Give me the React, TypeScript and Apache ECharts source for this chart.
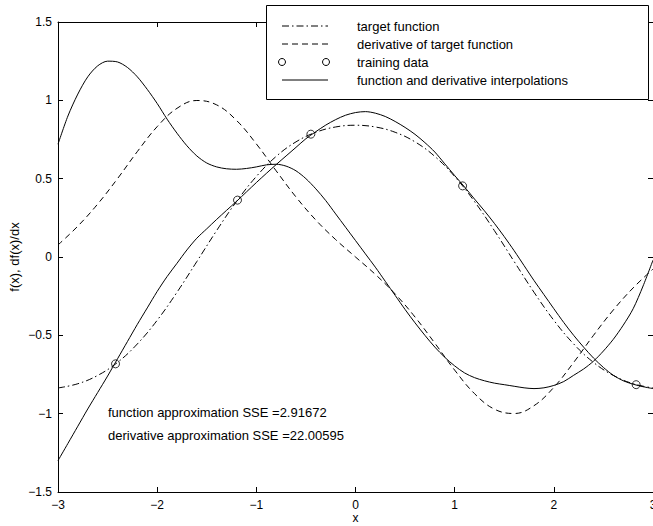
import React, { useEffect, useRef } from "react";
import * as echarts from "echarts";

const xs = [-3, -2.8, -2.6, -2.4, -2.2, -2, -1.8, -1.6, -1.4, -1.2, -1, -0.8, -0.6, -0.4, -0.2, 0, 0.2, 0.4, 0.6, 0.8, 1, 1.2, 1.4, 1.6, 1.8, 2, 2.2, 2.4, 2.6, 2.8, 3];
const targetF = [-0.836, -0.809, -0.756, -0.673, -0.555, -0.404, -0.225, -0.029, 0.169, 0.354, 0.514, 0.642, 0.735, 0.796, 0.83, 0.841, 0.83, 0.796, 0.735, 0.642, 0.514, 0.354, 0.169, -0.029, -0.225, -0.404, -0.555, -0.673, -0.756, -0.809, -0.836];
const targetDF = [0.077, 0.197, 0.338, 0.5, 0.673, 0.832, 0.949, 0.999, 0.971, 0.872, 0.722, 0.55, 0.383, 0.236, 0.111, 0, -0.111, -0.236, -0.383, -0.55, -0.722, -0.872, -0.971, -0.999, -0.949, -0.832, -0.673, -0.5, -0.338, -0.197, -0.077];
const xsFine = [-3, -2.9, -2.8, -2.7, -2.6, -2.5, -2.4, -2.3, -2.2, -2.1, -2, -1.9, -1.8, -1.7, -1.6, -1.5, -1.4, -1.3, -1.2, -1.1, -1, -0.9, -0.8, -0.7, -0.6, -0.5, -0.4, -0.3, -0.2, -0.1, 0, 0.1, 0.2, 0.3, 0.4, 0.5, 0.6, 0.7, 0.8, 0.9, 1, 1.1, 1.2, 1.3, 1.4, 1.5, 1.6, 1.7, 1.8, 1.9, 2, 2.1, 2.2, 2.3, 2.4, 2.5, 2.6, 2.7, 2.8, 2.9, 3];
const interpF = [-1.3, -1.19, -1.08, -0.97, -0.865, -0.76, -0.65, -0.54, -0.43, -0.325, -0.22, -0.125, -0.04, 0.045, 0.12, 0.18, 0.24, 0.298, 0.355, 0.415, 0.475, 0.533, 0.59, 0.645, 0.7, 0.755, 0.8, 0.842, 0.877, 0.905, 0.922, 0.928, 0.918, 0.897, 0.865, 0.827, 0.783, 0.73, 0.67, 0.595, 0.52, 0.447, 0.37, 0.295, 0.215, 0.13, 0.04, -0.055, -0.15, -0.24, -0.33, -0.418, -0.5, -0.575, -0.645, -0.705, -0.755, -0.79, -0.812, -0.828, -0.84];
const interpDF = [0.72, 0.9, 1.04, 1.15, 1.22, 1.25, 1.245, 1.21, 1.15, 1.07, 0.98, 0.88, 0.79, 0.71, 0.645, 0.6, 0.575, 0.563, 0.56, 0.565, 0.575, 0.588, 0.592, 0.58, 0.55, 0.5, 0.435, 0.36, 0.275, 0.19, 0.105, 0.02, -0.065, -0.155, -0.245, -0.335, -0.42, -0.5, -0.575, -0.64, -0.695, -0.74, -0.77, -0.79, -0.805, -0.815, -0.825, -0.835, -0.84, -0.835, -0.82, -0.795, -0.755, -0.715, -0.665, -0.6, -0.525, -0.435, -0.33, -0.185, -0.02];
const trainX = [-2.42, -1.19, -0.45, 1.08, 2.83];
const trainY = [-0.682, 0.363, 0.784, 0.454, -0.815];
const legendLabels = ["target function", "derivative of target function", "training data", "function and derivative interpolations"];
const sseLabels = ["function approximation SSE =2.91672", "derivative approximation SSE =22.00595"];
const xAxisTitle = "x";
const yAxisTitle = "f(x), df(x)/dx";

const FONT = "Liberation Sans, Arial, Helvetica, sans-serif";
const fmt = (v: number) => String(v).replace("-", "\u2212");
const DASHDOT = [7, 3, 1.5, 3];
const DASHED = [6, 4];

export default function App() {
  const ref = useRef<HTMLDivElement>(null);
  useEffect(() => {
    if (!ref.current) return;
    const chart = echarts.init(ref.current, undefined, { renderer: "svg" });
    const axisCommon = {
      type: "value" as const,
      axisLine: { show: true, onZero: false, lineStyle: { color: "#000", width: 1 } },
      axisTick: { show: true, inside: true, length: 5, lineStyle: { color: "#000", width: 1 } },
      splitLine: { show: false },
    };
    const labelStyle = { color: "#000", fontSize: 12, fontFamily: FONT };
    const pair = (xv: number[], ys: number[]) => xv.map((x, i) => [x, ys[i]]);
    const rows = [26, 44, 62, 80];
    const lx1 = 282, lx2 = 328, tx = 357;
    const textFont = `13px ${FONT}`;
    const graphics: any[] = [
      { type: "rect", z: 100, shape: { x: 266.5, y: 5.5, width: 382, height: 94 }, style: { fill: "#fff", stroke: "#000", lineWidth: 1 } },
      { type: "line", z: 101, shape: { x1: lx1, y1: rows[0], x2: lx2, y2: rows[0] }, style: { stroke: "#000", lineWidth: 1, lineDash: DASHDOT } },
      { type: "line", z: 101, shape: { x1: lx1, y1: rows[1], x2: lx2, y2: rows[1] }, style: { stroke: "#000", lineWidth: 1, lineDash: DASHED } },
      { type: "circle", z: 101, shape: { cx: lx1, cy: rows[2], r: 3.5 }, style: { fill: "none", stroke: "#000", lineWidth: 1 } },
      { type: "circle", z: 101, shape: { cx: lx2 - 2, cy: rows[2], r: 3.5 }, style: { fill: "none", stroke: "#000", lineWidth: 1 } },
      { type: "line", z: 101, shape: { x1: lx1, y1: rows[3], x2: lx2, y2: rows[3] }, style: { stroke: "#000", lineWidth: 1 } },
      ...legendLabels.map((t, i) => ({ type: "text", z: 101, x: tx, y: rows[i], style: { text: t, fill: "#000", font: textFont, verticalAlign: "middle" } })),
      ...sseLabels.map((t, i) => ({ type: "text", z: 101, x: 108, y: [412, 435][i], style: { text: t, fill: "#000", font: textFont, verticalAlign: "middle" } })),
    ];
    chart.setOption({
      animation: false,
      backgroundColor: "#fff",
      grid: { left: 58, top: 22, width: 595, height: 470, containLabel: false, outerBoundsMode: "none" },
      xAxis: [
        { ...axisCommon, position: "bottom", min: -3, max: 3, interval: 1, axisLabel: { ...labelStyle, margin: 7, formatter: fmt }, name: xAxisTitle, nameLocation: "middle", nameGap: 19, nameMoveOverlap: false, nameTextStyle: { ...labelStyle, lineHeight: 13 } },
        { ...axisCommon, position: "top", min: -3, max: 3, interval: 1, axisLabel: { show: false } },
      ],
      yAxis: [
        { ...axisCommon, position: "left", min: -1.5, max: 1.5, interval: 0.5, axisLabel: { ...labelStyle, margin: 6, formatter: fmt }, name: yAxisTitle, nameLocation: "middle", nameGap: 37, nameMoveOverlap: false, nameRotate: 90, nameTextStyle: { ...labelStyle, fontSize: 13 } },
        { ...axisCommon, position: "right", min: -1.5, max: 1.5, interval: 0.5, axisLabel: { show: false } },
      ],
      series: [
        { type: "line", data: pair(xs, targetF), smooth: 0.4, showSymbol: false, lineStyle: { color: "#000", width: 1, type: DASHDOT } },
        { type: "line", data: pair(xs, targetDF), smooth: 0.4, showSymbol: false, lineStyle: { color: "#000", width: 1, type: DASHED } },
        { type: "line", data: pair(xsFine, interpF), smooth: 0.3, showSymbol: false, lineStyle: { color: "#000", width: 1 } },
        { type: "line", data: pair(xsFine, interpDF), smooth: 0.3, showSymbol: false, lineStyle: { color: "#000", width: 1 } },
        { type: "scatter", data: trainX.map((x, i) => [x, trainY[i]]), symbol: "circle", symbolSize: 8, itemStyle: { color: "transparent", borderColor: "#000", borderWidth: 1 }, z: 5 },
      ],
      graphic: graphics,
    });
    return () => chart.dispose();
  }, []);
  return <div ref={ref} style={{ position: "absolute", left: 0, top: 0, width: 653, height: 526 }} />;
}
